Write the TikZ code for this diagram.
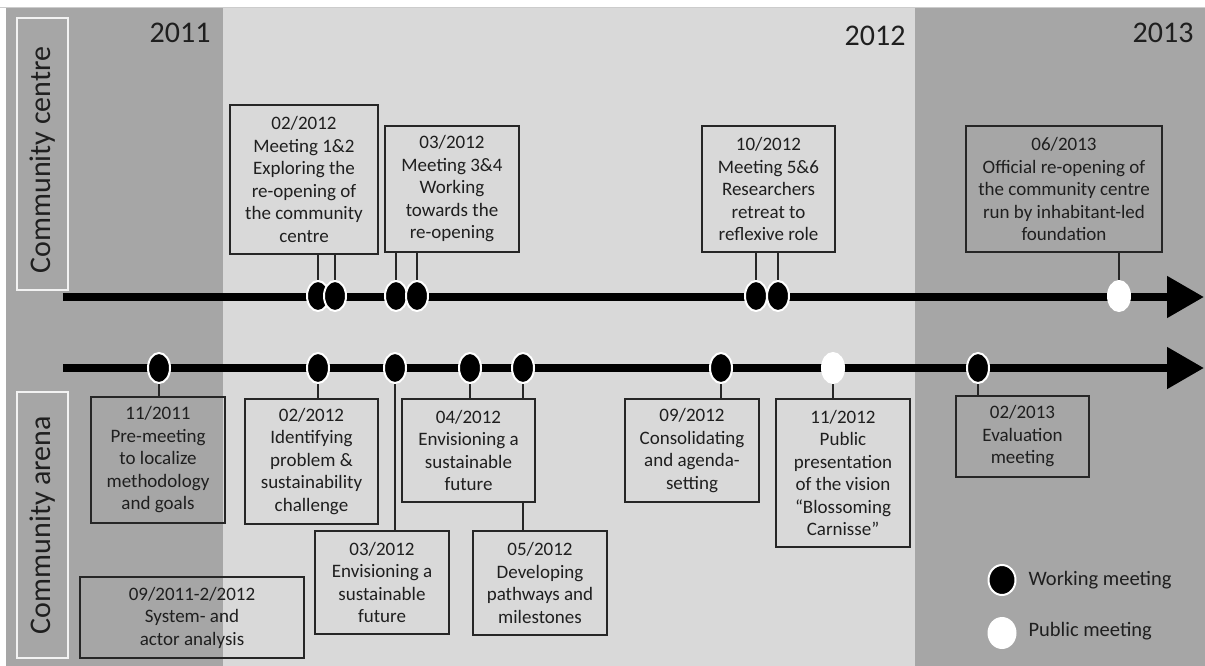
\documentclass[tikz,border=0pt]{standalone}
\usepackage{fontspec}
\setmainfont{Carlito}
\usetikzlibrary{arrows.meta,shapes.geometric}
\definecolor{darkbg}{HTML}{A6A6A6}
\definecolor{lightbg}{HTML}{D9D9D9}
\begin{document}
\begin{tikzpicture}[x=1pt,y=-1pt,
  evbox/.style={draw=black!85, line width=1.4pt, align=center, inner sep=0pt,
    font=\fontsize{19}{22.5}\selectfont, text=black!88},
  wdot/.style={ellipse, fill=black, draw=white, line width=2pt, minimum width=22pt, minimum height=30pt, inner sep=0pt},
  pdot/.style={wdot, fill=white},
  stem/.style={draw=black!85, line width=1.4pt},
  tline/.style={line width=8pt, -{Triangle[length=37pt,width=40pt]}},
  yearlab/.style={anchor=east, font=\fontsize{30}{32}\selectfont, text=black!88},
  sidebox/.style={draw=white!95!black, line width=1.5pt},
  sidelab/.style={rotate=90, font=\fontsize{30}{32}\selectfont, text=black!88},
  leglab/.style={anchor=west, font=\fontsize{20.5}{23}\selectfont, text=black!88}]
\useasboundingbox (0,0) rectangle (1205,666);
% backgrounds
\fill[white] (0,0) rectangle (1205,666);
\fill[darkbg] (6,7) rectangle (1205,666);
\fill[lightbg] (223,7) rectangle (915,666);
\draw[black!20, line width=0.8pt] (0,7) -- (1205,7);
% side labels
\draw[sidebox] (17,18) rectangle (68,290);
\node[sidelab] (cc) at (42.5,160) {Community centre};
\draw[sidebox] (17,392) rectangle (68,658);
\node[sidelab] (ca) at (42.5,525) {Community arena};
% years
\node[yearlab] (y11) at (214,33) {2011};
\node[yearlab] (y12) at (909,36) {2012};
\node[yearlab] (y13) at (1197,33) {2013};
% timelines
\coordinate (ts) at (63,297);
\coordinate (te) at (1204,297);
\coordinate (bs) at (63,368);
\coordinate (be) at (1204,368);
\draw[tline] (ts) -- (te);
\draw[tline] (bs) -- (be);
% top boxes
\node[evbox, minimum width=148pt, minimum height=149pt] (A) at (304,179.5) {02/2012\\Meeting 1\&2\\Exploring the\\re-opening of\\the community\\centre};
\node[evbox, minimum width=134pt, minimum height=126pt] (B) at (452,189) {03/2012\\Meeting 3\&4\\Working\\towards the\\re-opening};
\node[evbox, minimum width=133pt, minimum height=126pt] (C) at (768.5,189) {10/2012\\Meeting 5\&6\\Researchers\\retreat to\\reflexive role};
\node[evbox, minimum width=196pt, minimum height=126pt] (D) at (1064,189) {06/2013\\Official re-opening of\\the community centre\\run by inhabitant-led\\foundation};
% bottom boxes
\node[evbox, minimum width=134pt, minimum height=126pt] (E) at (158,460) {11/2011\\Pre-meeting\\to localize\\methodology\\and goals};
\node[evbox, minimum width=133pt, minimum height=125pt] (F) at (311.5,461.5) {02/2012\\Identifying\\problem \&\\sustainability\\challenge};
\node[evbox, minimum width=134pt, minimum height=103pt] (G) at (382,582.5) {03/2012\\Envisioning a\\sustainable\\future};
\node[evbox, minimum width=133pt, minimum height=103pt] (H) at (468.5,450.5) {04/2012\\Envisioning a\\sustainable\\future};
\node[evbox, minimum width=134pt, minimum height=104pt] (I) at (540,583) {05/2012\\Developing\\pathways and\\milestones};
\node[evbox, minimum width=134pt, minimum height=103pt] (J) at (692,450.5) {09/2012\\Consolidating\\and agenda-\\setting};
\node[evbox, minimum width=134pt, minimum height=148pt] (K) at (843,473) {11/2012\\Public\\presentation\\of the vision\\“Blossoming\\Carnisse”};
\node[evbox, minimum width=133pt, minimum height=81pt] (L) at (1022.5,436.5) {02/2013\\Evaluation\\meeting};
\node[evbox, minimum width=224pt, minimum height=81pt] (M) at (192,617.5) {09/2011-2/2012\\System- and\\actor analysis};
% dot positions
\coordinate (t1) at (318,296);
\coordinate (t2) at (335,296);
\coordinate (t3) at (396,296);
\coordinate (t4) at (417,296);
\coordinate (t5) at (756,296);
\coordinate (t6) at (778,296);
\coordinate (t7) at (1119,296);
\coordinate (b1) at (159,368);
\coordinate (b2) at (318,368);
\coordinate (b3) at (395,368);
\coordinate (b4) at (470,368);
\coordinate (b5) at (523,368);
\coordinate (b6) at (721,368);
\coordinate (b7) at (833,368);
\coordinate (b8) at (978,368);
% stems
\draw[stem] (t1) -- (t1 |- A.south);
\draw[stem] (t2) -- (t2 |- A.south);
\draw[stem] (t3) -- (t3 |- B.south);
\draw[stem] (t4) -- (t4 |- B.south);
\draw[stem] (t5) -- (t5 |- C.south);
\draw[stem] (t6) -- (t6 |- C.south);
\draw[stem] (t7) -- (t7 |- D.south);
\draw[stem] (b1) -- (b1 |- E.north);
\draw[stem] (b2) -- (b2 |- F.north);
\draw[stem] (b3) -- (b3 |- G.north);
\draw[stem] (b4) -- (b4 |- H.north);
\draw[stem] (b5) -- (b5 |- H.north);
\draw[stem] (b5 |- H.south) -- (b5 |- I.north);
\draw[stem] (b6) -- (b6 |- J.north);
\draw[stem] (b7) -- (b7 |- K.north);
\draw[stem] (b8) -- (b8 |- L.north);
% dots
\node[wdot] (dt1) at (t1) {};
\node[wdot] (dt2) at (t2) {};
\node[wdot] (dt3) at (t3) {};
\node[wdot] (dt4) at (t4) {};
\node[wdot] (dt5) at (t5) {};
\node[wdot] (dt6) at (t6) {};
\node[pdot] (dt7) at (t7) {};
\node[wdot] (db1) at (b1) {};
\node[wdot] (db2) at (b2) {};
\node[wdot] (db3) at (b3) {};
\node[wdot] (db4) at (b4) {};
\node[wdot] (db5) at (b5) {};
\node[wdot] (db6) at (b6) {};
\node[pdot] (db7) at (b7) {};
\node[wdot] (db8) at (b8) {};
% legend
\node[wdot, minimum width=27pt] (lw) at (1002,580) {};
\node[leglab] (lwt) at (1025,580) {Working meeting};
\node[pdot, minimum width=27pt] (lp) at (1002,633) {};
\node[leglab] (lpt) at (1025,631) {Public meeting};
\end{tikzpicture}
\end{document}
